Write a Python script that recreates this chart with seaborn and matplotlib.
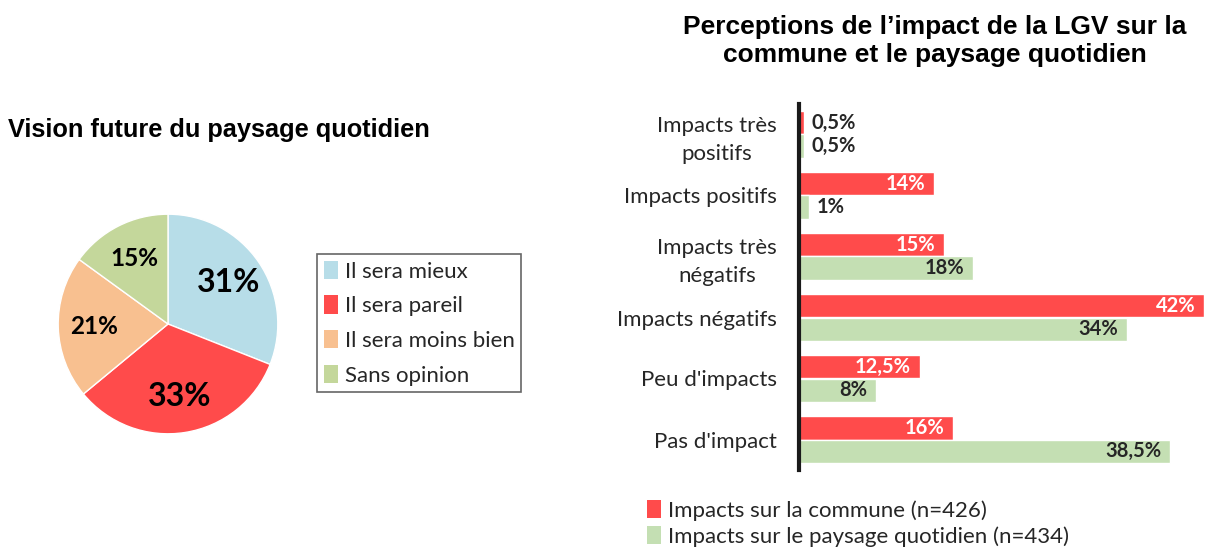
import matplotlib
matplotlib.use('Agg')
import matplotlib.pyplot as plt
from matplotlib.patches import Patch
import pandas as pd
import seaborn as sns

# Pie data
pie_labels = ['Il sera mieux', 'Il sera pareil', 'Il sera moins bien', 'Sans opinion']
pie_values = [31, 33, 21, 15]
pie_colors = ['#b7dde8', '#ff4b4b', '#f8c090', '#c4d79b']

# Bar data
categories = ['Impacts très\npositifs', 'Impacts positifs', 'Impacts très\nnégatifs',
              'Impacts négatifs', "Peu d'impacts", "Pas d'impact"]
commune = [0.5, 14, 15, 42, 12.5, 16]
paysage = [0.5, 1, 18, 34, 8, 38.5]
series = ['Impacts sur la commune (n=426)', 'Impacts sur le paysage quotidien (n=434)']
bar_colors = ['#ff4b4b', '#c4dfb3']

sns.set_theme(style='white')
plt.rcParams['font.family'] = ['Lato', 'DejaVu Sans']
BODY = 'Lato'
TITLE = 'Liberation Sans'
DARK = '#262626'

fig = plt.figure(figsize=(12.11, 5.47), dpi=100)
W, H = 1211, 547

def fx(px):
    return px / W

def fy(py):
    return 1 - py / H

# ---- Pie ----
fig.text(fx(8), fy(130), 'Vision future du paysage quotidien', family=TITLE,
         weight='bold', fontsize=18.3, ha='left', va='center', color='black')

ax_pie = fig.add_axes([fx(56), fy(436), fx(224), 224 / H])
wedges, texts, autotexts = ax_pie.pie(
    pie_values, colors=pie_colors, startangle=90, counterclock=False,
    autopct=lambda p: f'{p:.0f}%', pctdistance=0.67,
    wedgeprops=dict(edgecolor='white', linewidth=1))
for t, v in zip(autotexts, pie_values):
    t.set_family(BODY)
    t.set_weight('bold')
    t.set_color('black')
    t.set_fontsize(23 if v > 25 else 17.5)
ax_pie.set_xlim(-1.02, 1.02)
ax_pie.set_ylim(-1.02, 1.02)
ax_pie.set_aspect('equal')

pie_handles = [Patch(facecolor=c, edgecolor='none') for c in pie_colors]
leg = fig.legend(pie_handles, pie_labels, loc='upper left',
                 bbox_to_anchor=(fx(317), fy(254)), frameon=True, fancybox=False,
                 handlelength=0.65, handleheight=0.9, handletextpad=0.3,
                 labelspacing=0.62, borderpad=0.3, borderaxespad=0,
                 prop={'family': BODY, 'size': 16})
leg.get_frame().set_edgecolor('#404040')
leg.get_frame().set_linewidth(1.2)
for t in leg.get_texts():
    t.set_color(DARK)

# ---- Bars ----
fig.text(fx(935), fy(41), 'Perceptions de l\u2019impact de la LGV sur la\ncommune et le paysage quotidien',
         family=TITLE, weight='bold', fontsize=19, ha='center', va='center',
         color='black', linespacing=1.2)

df = pd.DataFrame({
    'categorie': categories * 2,
    'valeur': commune + paysage,
    'serie': [series[0]] * len(categories) + [series[1]] * len(categories),
})

ax = fig.add_axes([fx(799), fy(470), fx(1204) - fx(799), (470 - 104) / H])
sns.barplot(data=df, y='categorie', x='valeur', hue='serie', order=categories,
            hue_order=series, palette=bar_colors, orient='h', width=0.76,
            saturation=1, ax=ax, legend=False)
ax.set_xlim(0, 42)
ax.set_ylim(5.5, -0.5)
ax.set_xlabel('')
ax.set_ylabel('')
ax.set_xticks([])
for s in ['top', 'right', 'bottom']:
    ax.spines[s].set_visible(False)
ax.spines['left'].set_color('#1a1a1a')
ax.spines['left'].set_linewidth(3)
ax.tick_params(axis='y', length=0, pad=16)
for lab in ax.get_yticklabels():
    lab.set_family(BODY)
    lab.set_fontsize(16)
    lab.set_color(DARK)
    lab.set_multialignment('center')
    lab.set_linespacing(1.5)

def fmt(v):
    s = f'{v:g}'.replace('.', ',')
    return s + '%'

for cont, col in zip(ax.containers, ['white', DARK]):
    for bar, v in zip(cont, cont.datavalues):
        y = bar.get_y() + bar.get_height() / 2
        end = bar.get_width()
        if v < 3:
            ax.text(end + 0.8, y, fmt(v), ha='left', va='center', color=DARK,
                    family=BODY, weight='bold', fontsize=14.5)
        else:
            ax.text(end - 0.9, y, fmt(v), ha='right', va='center', color=col,
                    family=BODY, weight='bold', fontsize=14.5)

bar_handles = [Patch(facecolor=c, edgecolor='none') for c in bar_colors]
leg2 = fig.legend(bar_handles, series, loc='upper left',
                  bbox_to_anchor=(fx(647), fy(500)), frameon=False,
                  handlelength=0.65, handleheight=0.9, handletextpad=0.3,
                  labelspacing=0.22, borderpad=0, borderaxespad=0,
                  prop={'family': BODY, 'size': 16})
for t in leg2.get_texts():
    t.set_color(DARK)

fig.savefig('out.png', dpi=100, facecolor='white')
